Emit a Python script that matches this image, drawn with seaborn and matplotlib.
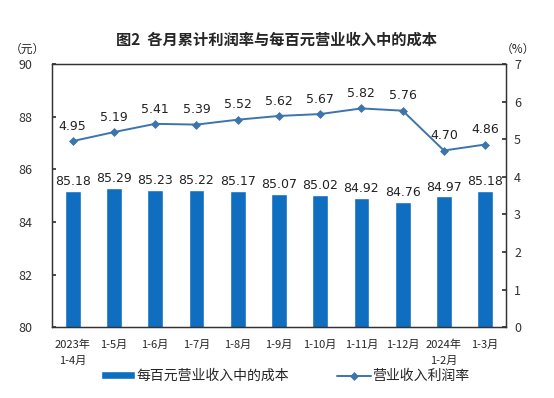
import matplotlib
matplotlib.use("Agg")
import matplotlib.pyplot as plt
import seaborn as sns
import pandas as pd

# data
periods = ["2023年\n1-4月", "1-5月", "1-6月", "1-7月", "1-8月", "1-9月",
           "1-10月", "1-11月", "1-12月", "2024年\n1-2月", "1-3月"]
cost_per_100 = [85.18, 85.29, 85.23, 85.22, 85.17, 85.07, 85.02, 84.92, 84.76, 84.97, 85.18]
profit_rate = [4.95, 5.19, 5.41, 5.39, 5.52, 5.62, 5.67, 5.82, 5.76, 4.70, 4.86]

df = pd.DataFrame({"period": periods, "cost": cost_per_100, "rate": profit_rate})

sns.set_theme(style="white")
plt.rcParams["font.family"] = ["Noto Sans CJK SC", "DejaVu Sans"]
plt.rcParams["axes.unicode_minus"] = False

bar_color = "#0F6EC0"
line_color = "#3C74AE"

fig = plt.figure(figsize=(5.54, 3.98), dpi=100)
ax = fig.add_axes([0.094, 0.178, 0.819, 0.661])

sns.barplot(data=df, x="period", y="cost", color=bar_color, width=0.38,
            saturation=1, ax=ax, label="每百元营业收入中的成本")
ax.set_ylim(80, 90)
ax.set_yticks([80, 82, 84, 86, 88, 90])
ax.bar_label(ax.containers[0], fmt="%.2f", padding=2, fontsize=9,
             family=["DejaVu Sans"], color="#222222")

ax2 = ax.twinx()
sns.pointplot(data=df, x="period", y="rate", color=line_color, markers="D",
              markersize=3.5, linewidth=1.4, errorbar=None, ax=ax2,
              label="营业收入利润率")
ax2.set_ylim(0, 7)
ax2.set_yticks(range(0, 8))
for i, v in enumerate(profit_rate):
    ax2.annotate(f"{v:.2f}", (i, v), xytext=(0, 6), textcoords="offset points",
                 ha="center", va="bottom", fontsize=9, family=["DejaVu Sans"],
                 color="#222222")

for a in (ax, ax2):
    a.set_xlabel("")
    a.set_ylabel("")
    for s in a.spines.values():
        s.set_color("#333333")
        s.set_linewidth(0.9)

ax.set_xlim(-0.5, len(periods) - 0.5)
ax.tick_params(axis="x", length=0, labelsize=8, pad=9)
ax.set_xticks([i + 0.5 for i in range(len(periods) - 1)], minor=True)
ax.tick_params(axis="x", which="minor", direction="in", length=3, color="#555555")
ax.tick_params(axis="y", direction="in", length=3, labelsize=9, colors="#333333", pad=14)
ax2.tick_params(axis="y", direction="in", length=3, labelsize=9, colors="#333333", pad=6)
for lab in ax.get_xticklabels():
    lab.set_linespacing(1.7)

if ax.legend_:
    ax.legend_.remove()
if ax2.legend_:
    ax2.legend_.remove()
h1, l1 = ax.get_legend_handles_labels()
h2, l2 = ax2.get_legend_handles_labels()
fig.legend(h1 + h2, l1 + l2, loc="center", bbox_to_anchor=(0.515, 0.055), ncol=2,
           frameon=False, fontsize=10, columnspacing=3.5, handlelength=2.4,
           handleheight=0.5, handletextpad=0.1)

fig.text(0.5, 0.9, "图2  各月累计利润率与每百元营业收入中的成本", ha="center",
         va="center", fontsize=11, fontweight="bold")
fig.text(0.05, 0.875, "（元）", ha="center", va="center", fontsize=8.5)
fig.text(0.935, 0.875, "（%）", ha="center", va="center", fontsize=8.5)

fig.savefig("out.png", dpi=100)
